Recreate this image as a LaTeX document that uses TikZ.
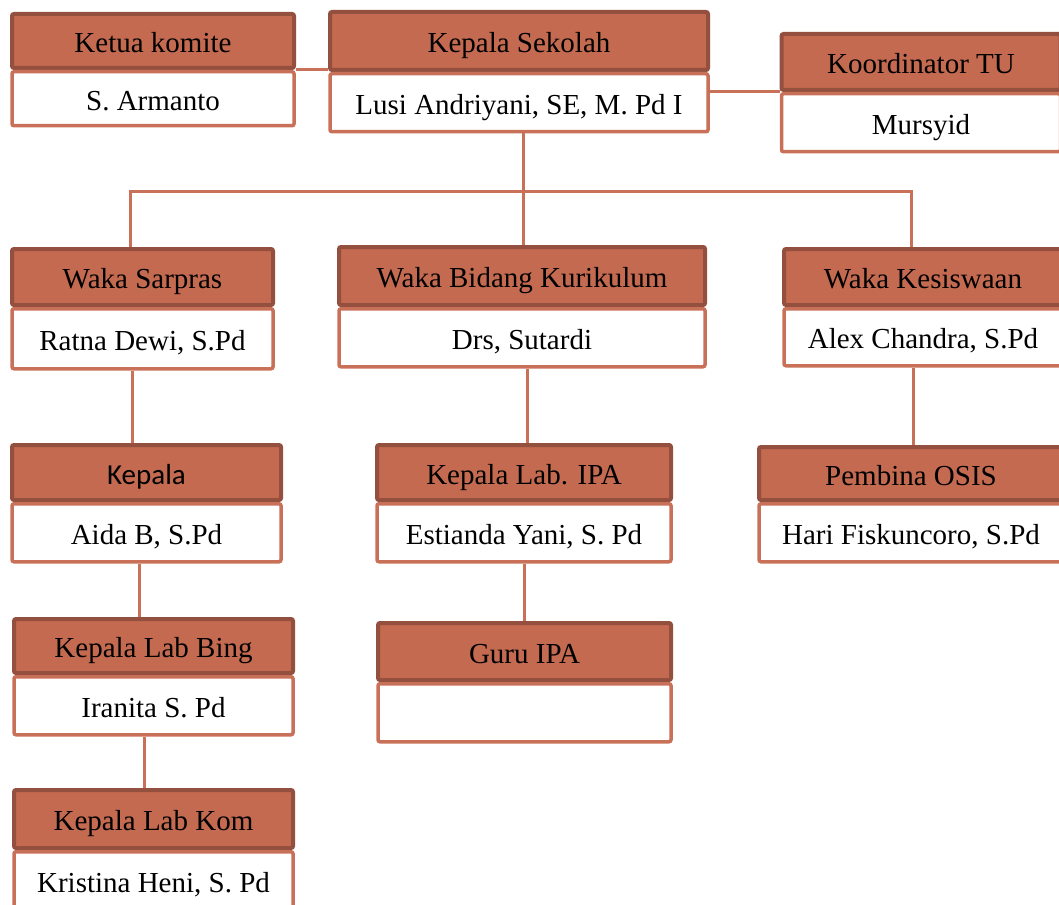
\documentclass[tikz,border=0pt]{standalone}
\usepackage{fontspec}
\setmainfont{Liberation Serif}
\newfontfamily\calibri{Carlito}
\usepackage{xcolor}
\usetikzlibrary{positioning, calc}

\definecolor{hdfill}{RGB}{196,106,80}
\definecolor{hdline}{RGB}{148,80,62}
\definecolor{nmline}{RGB}{201,112,88}

\begin{document}
\begin{tikzpicture}[
    x=1pt, y=-1pt,
    head/.style={draw=hdline, fill=hdfill, line width=4pt, rounded corners=2pt, inner sep=0pt,
        minimum width=#1, minimum height=56pt, text height=27pt, text depth=4pt,
        font=\fontsize{29}{34}\selectfont},
    person/.style={draw=nmline, fill=white, line width=3.5pt, rounded corners=2pt, inner sep=0pt,
        minimum width=#1, minimum height=58pt, text height=27pt, text depth=4pt,
        font=\fontsize{29}{34}\selectfont},
    link/.style={draw=nmline, line width=3pt}
]
\useasboundingbox (0,0) rectangle (1059,904);

% Top row
\node (komite) [head=282pt, minimum height=54pt] at (153,41) {Ketua komite};
\node (komiteNm) [person=282pt, minimum height=54pt, below=0pt of komite] {S. Armanto};
\node (kepsek) [head=378pt, minimum height=58pt] at (519,41) {Kepala Sekolah};
\node (kepsekNm) [person=378pt, below=0pt of kepsek] {Lusi Andriyani, SE, M. Pd I};
\node (tu) [head=279pt] at (921,62) {Koordinator TU};
\node (tuNm) [person=279pt, below=0pt of tu] {Mursyid};

% Waka row
\node (sarpras) [head=261pt] at (142.5,277) {Waka Sarpras};
\node (sarprasNm) [person=261pt, minimum height=60pt, below=0pt of sarpras] {Ratna Dewi, S.Pd};
\node (kurikulum) [head=366pt, minimum height=58pt] at (522,276) {Waka Bidang Kurikulum};
\node (kurikulumNm) [person=366pt, below=0pt of kurikulum] {Drs, Sutardi};
\node (kesiswaan) [head=278pt] at (923,277) {Waka Kesiswaan};
\node (kesiswaanNm) [person=278pt, minimum height=57pt, below=0pt of kesiswaan] {Alex Chandra, S.Pd};

% Third row
\node (kepala) [head=269pt, minimum height=55pt] at (146.5,472.5) {\calibri Kepala};
\node (kepalaNm) [person=269pt, below=0pt of kepala] {Aida B, S.Pd};
\node (labipa) [head=294pt, minimum height=55pt] at (524,472.5) {Kepala Lab. IPA};
\node (labipaNm) [person=294pt, below=0pt of labipa] {Estianda Yani, S. Pd};
\node (osis) [head=304pt, minimum height=53pt] at (911,473.5) {Pembina OSIS};
\node (osisNm) [person=304pt, below=0pt of osis] {Hari Fiskuncoro, S.Pd};

% Lower rows
\node (labbing) [head=279pt, minimum height=54pt] at (153.5,646) {Kepala Lab Bing};
\node (labbingNm) [person=279pt, below=0pt of labbing] {Iranita S. Pd};
\node (labkom) [head=279pt, minimum height=58pt] at (153.5,819) {Kepala Lab Kom};
\node (labkomNm) [person=279pt, below=0pt of labkom] {Kristina Heni, S. Pd};
\node (guru) [head=293pt, minimum height=57pt] at (524.5,651.5) {Guru IPA};
\node (guruNm) [person=293pt, below=0pt of guru] {};

% Links
\coordinate (bus) at (523,191);
\coordinate (busL) at (130,191);
\coordinate (busR) at (911,191);
\draw[link] (komite.south east) -- (komite.south east -| kepsek.west);
\draw[link] (tu.south west -| kepsekNm.east) -- (tu.south west);
\draw[link] (kepsekNm.south -| bus) -- (bus);
\draw[link] (sarpras.north -| busL) -- (busL) -- (busR) -- (kesiswaan.north -| busR);
\draw[link] (bus) -- (kurikulum.north -| bus);
\draw[link] (sarprasNm.south -| 132,0) -- (kepala.north -| 132,0);
\draw[link] (kurikulumNm.south -| 527,0) -- (labipa.north -| 527,0);
\draw[link] (kesiswaanNm.south -| 913,0) -- (osis.north -| 913,0);
\draw[link] (kepalaNm.south -| 139,0) -- (labbing.north -| 139,0);
\draw[link] (labipaNm.south -| 524,0) -- (guru.north -| 524,0);
\draw[link] (labbingNm.south -| 144,0) -- (labkom.north -| 144,0);

\end{tikzpicture}
\end{document}
